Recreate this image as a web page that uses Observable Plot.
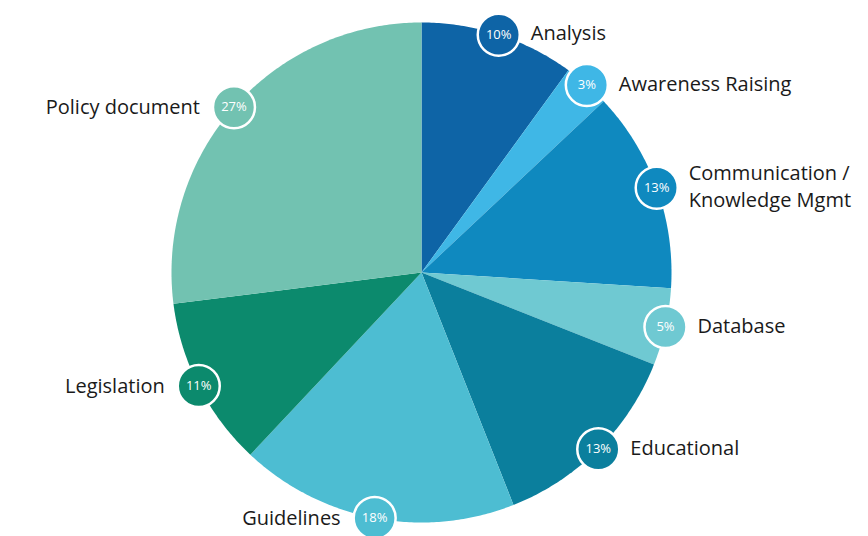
<!DOCTYPE html>
<html>
<head>
<meta charset="utf-8">
<script src="https://cdn.jsdelivr.net/npm/d3@7"></script>
<script src="https://cdn.jsdelivr.net/npm/@observablehq/plot@0.6"></script>
<style>
  html, body { margin: 0; padding: 0; background: #fff; }
  #chart { width: 868px; height: 536px; }
</style>
</head>
<body>
<div id="chart"></div>
<script>
// ---- data ----
const categories = ["Analysis", "Awareness Raising", "Communication / Knowledge Mgmt", "Database", "Educational", "Guidelines", "Legislation", "Policy document"];
const shares = [10, 3, 13, 5, 13, 18, 11, 27];
const palette = ["#0e64a6", "#3fb7e6", "#0f89bf", "#6fc9d2", "#0b7f9d", "#4dbdd2", "#0c8a6d", "#72c2b1"];

// ---- layout ----
const W = 868, H = 536, R = 250, CX = 421, CY = 272;

const rows = categories.map((name, i) => ({name, share: shares[i]}));
const arcs = d3.pie().sort(null).value(d => d.share)(rows);

const slicePts = [];
arcs.forEach(a => {
  slicePts.push({name: a.data.name, x: 0, y: 0});
  const n = Math.max(2, Math.ceil((a.endAngle - a.startAngle) / 0.01));
  for (let k = 0; k <= n; k++) {
    const t = a.startAngle + (a.endAngle - a.startAngle) * k / n;
    slicePts.push({name: a.data.name, x: Math.sin(t), y: Math.cos(t)});
  }
  slicePts.push({name: a.data.name, x: 0, y: 0});
});

const marks = arcs.map(a => {
  const m = (a.startAngle + a.endAngle) / 2;
  return {name: a.data.name, share: a.data.share, mid: m, x: Math.sin(m), y: Math.cos(m),
          label: a.data.name.replace(" / ", " /\n")};
});
const right = marks.filter(d => d.mid < Math.PI);
const left = marks.filter(d => d.mid >= Math.PI);

const chart = Plot.plot({
  width: W, height: H,
  margin: 0,
  x: {domain: [-CX / R, (W - CX) / R], axis: null},
  y: {domain: [-(H - CY) / R, CY / R], axis: null},
  color: {domain: categories, range: palette},
  style: {fontFamily: "'Open Sans', sans-serif", background: "white"},
  marks: [
    Plot.line(slicePts, {x: "x", y: "y", z: "name", fill: "name", stroke: null, curve: "linear"}),
    Plot.dot(marks, {x: "x", y: "y", r: 21, fill: "name", stroke: "white", strokeWidth: 2.5}),
    Plot.text(marks, {x: "x", y: "y", text: d => d.share + "%", fill: "white", fontSize: 13}),
    Plot.text(right, {x: "x", y: "y", text: "label", textAnchor: "start", dx: 32, dy: -3, fill: "#1a1a1a", fontSize: 20, lineHeight: 1.35}),
    Plot.text(left, {x: "x", y: "y", text: "label", textAnchor: "end", dx: -34, dy: -2, fill: "#1a1a1a", fontSize: 20, lineHeight: 1.35})
  ]
});
document.getElementById("chart").appendChild(chart);
</script>
</body>
</html>
